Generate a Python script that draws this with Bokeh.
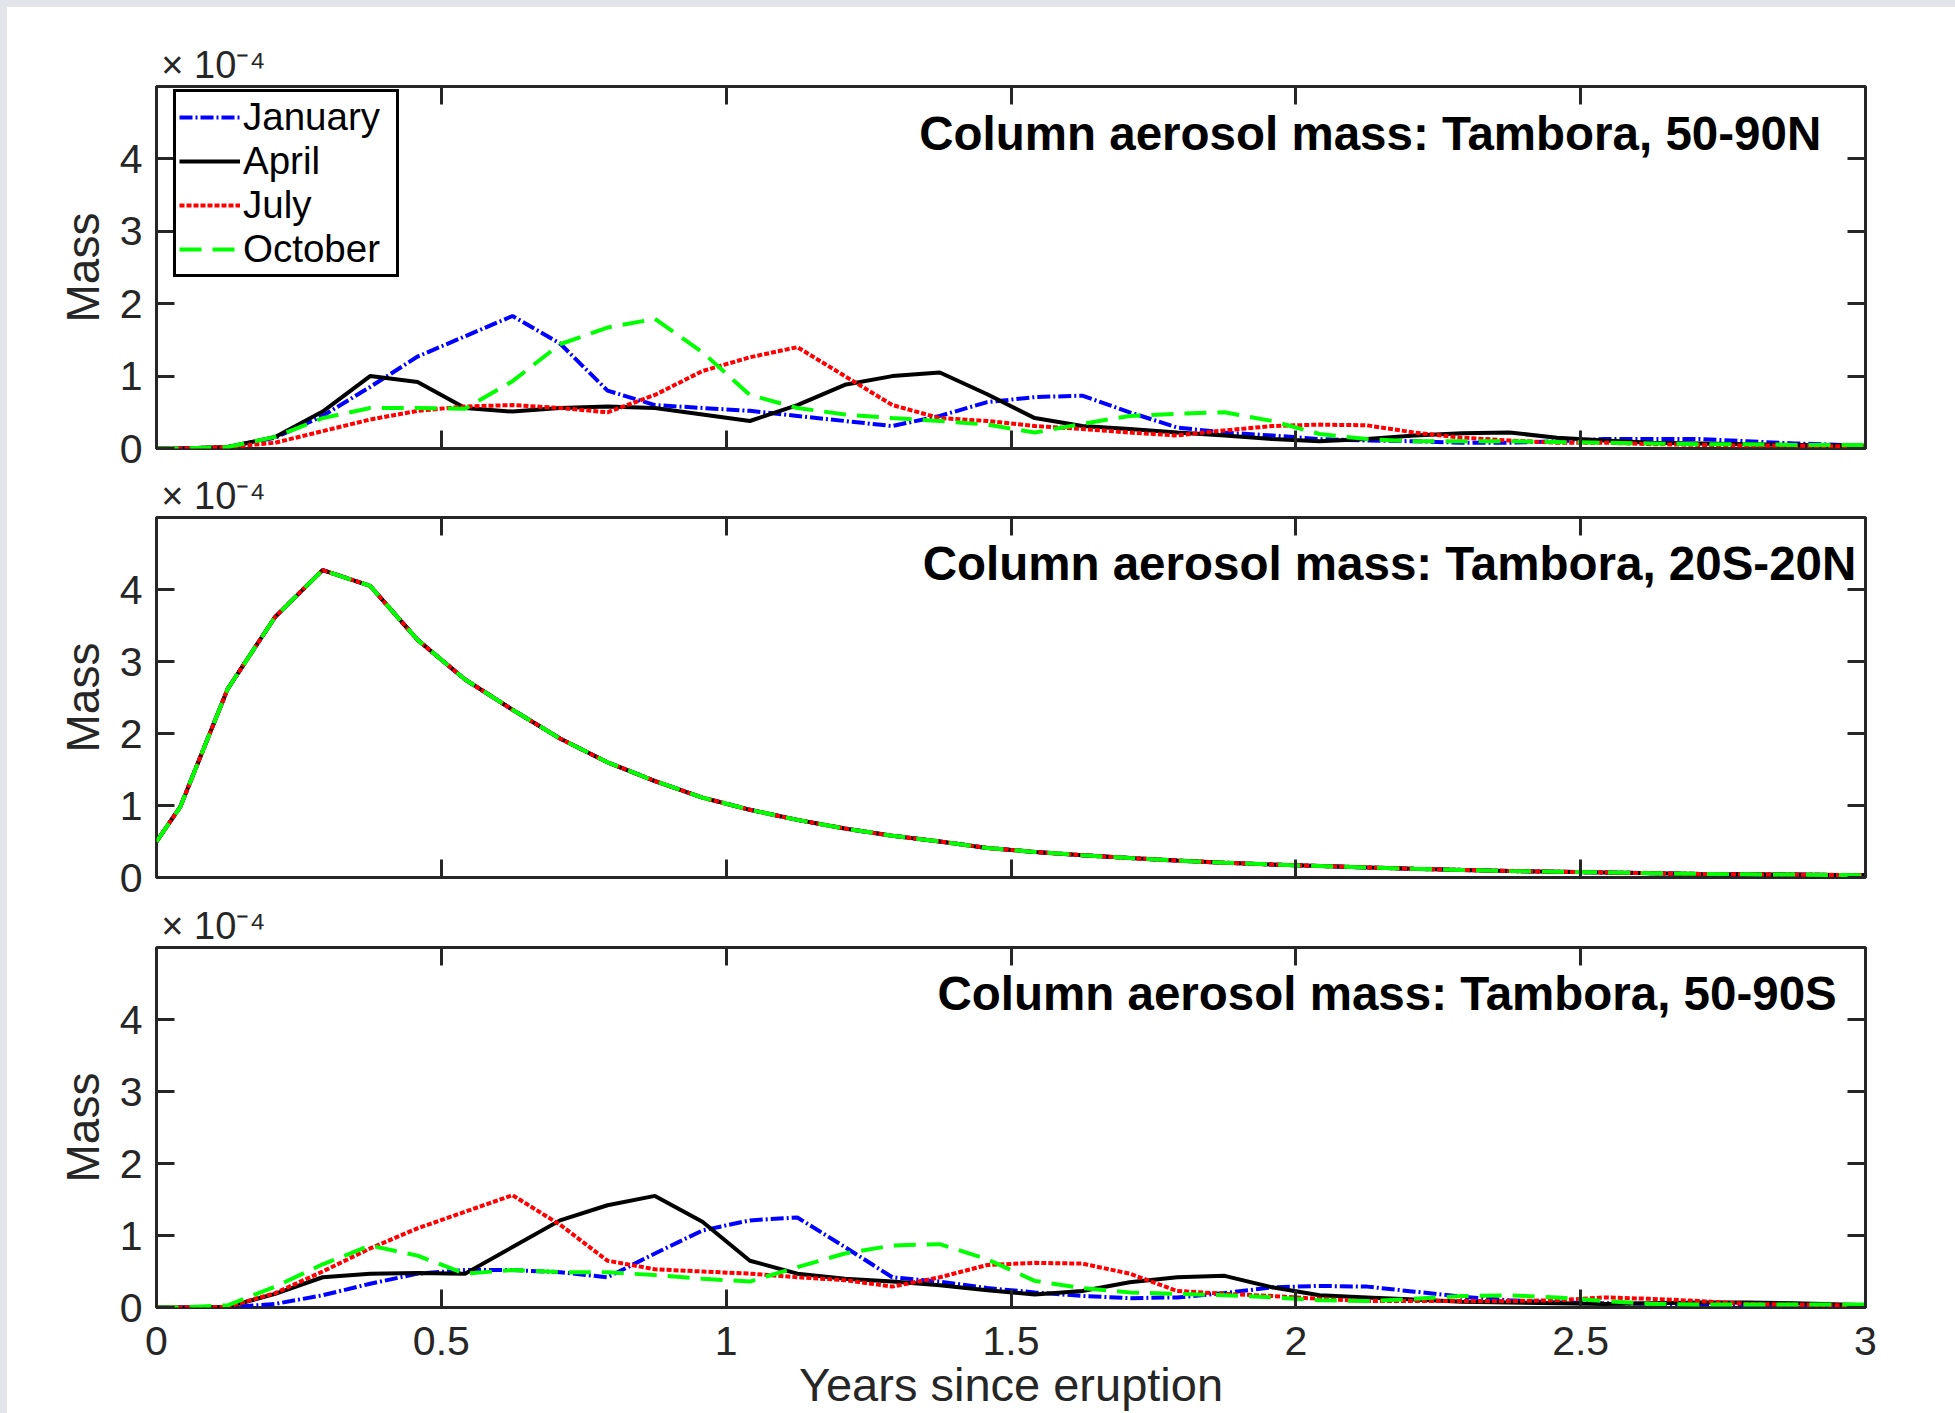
from bokeh.plotting import figure
from bokeh.models import (Range1d, LinearAxis, FixedTicker, NumeralTickFormatter,
                          CustomJSTickFormatter, Label, Legend, LegendItem)
from bokeh.layouts import column
from bokeh.embed import file_html
from bokeh.resources import INLINE

# Time axis: eruption (0), mid-month samples for 36 months, end (3 years)
years = [0.0] + [(m - 0.5) / 12 for m in range(1, 37)] + [3.0]

months = ["January", "April", "July", "October"]
x_ticks = [0, 0.5, 1, 1.5, 2, 2.5, 3]
y_ticks = [0, 1, 2, 3, 4]

# Column aerosol mass, units of 1e-4
north_jan = [0, 0, 0.02, 0.15, 0.45, 0.85, 1.27, 1.55, 1.83, 1.45, 0.8, 0.6, 0.56, 0.52, 0.45, 0.38,
             0.31, 0.45, 0.64, 0.71, 0.73, 0.5, 0.29, 0.22, 0.18, 0.13, 0.11, 0.1, 0.08, 0.08,
             0.1, 0.13, 0.13, 0.13, 0.1, 0.07, 0.05, 0.04]
north_apr = [0, 0, 0.02, 0.16, 0.51, 1.0, 0.92, 0.56, 0.51, 0.56, 0.58, 0.56, 0.47, 0.38, 0.6, 0.88,
             1.0, 1.05, 0.75, 0.42, 0.31, 0.27, 0.22, 0.18, 0.13, 0.1, 0.13, 0.18, 0.21, 0.22,
             0.15, 0.11, 0.08, 0.07, 0.06, 0.05, 0.04, 0.03]
north_jul = [0, 0, 0.02, 0.08, 0.24, 0.4, 0.52, 0.58, 0.6, 0.56, 0.5, 0.74, 1.07, 1.26, 1.4, 1.0,
             0.6, 0.42, 0.38, 0.31, 0.27, 0.22, 0.18, 0.25, 0.31, 0.33, 0.32, 0.22, 0.15, 0.11,
             0.08, 0.08, 0.06, 0.05, 0.04, 0.04, 0.03, 0.03]
north_oct = [0, 0, 0.02, 0.16, 0.42, 0.56, 0.56, 0.55, 0.93, 1.44, 1.67, 1.79, 1.33, 0.74, 0.56, 0.47,
             0.42, 0.38, 0.33, 0.22, 0.34, 0.45, 0.48, 0.5, 0.38, 0.2, 0.13, 0.1, 0.1, 0.1,
             0.09, 0.08, 0.07, 0.06, 0.06, 0.05, 0.05, 0.05]

tropics = [0.5, 0.98, 2.62, 3.62, 4.27, 4.05, 3.3, 2.75, 2.33, 1.93, 1.6, 1.34, 1.11, 0.94, 0.8, 0.68,
           0.58, 0.5, 0.41, 0.355, 0.31, 0.27, 0.235, 0.205, 0.18, 0.16, 0.14, 0.12, 0.105, 0.09,
           0.08, 0.07, 0.06, 0.05, 0.045, 0.04, 0.035, 0.03]
tropics_jan = tropics
tropics_apr = tropics
tropics_jul = tropics
tropics_oct = tropics

south_jan = [0, 0, 0.0, 0.05, 0.17, 0.33, 0.47, 0.52, 0.52, 0.49, 0.42, 0.75, 1.07, 1.21, 1.25, 0.84,
             0.42, 0.36, 0.27, 0.21, 0.16, 0.13, 0.14, 0.2, 0.28, 0.3, 0.29, 0.22, 0.15, 0.1,
             0.07, 0.06, 0.05, 0.05, 0.04, 0.04, 0.03, 0.03]
south_apr = [0, 0, 0.01, 0.19, 0.42, 0.47, 0.48, 0.47, 0.84, 1.21, 1.42, 1.55, 1.19, 0.65, 0.47, 0.4,
             0.36, 0.31, 0.24, 0.18, 0.23, 0.35, 0.42, 0.44, 0.28, 0.17, 0.14, 0.11, 0.08, 0.07,
             0.06, 0.05, 0.06, 0.07, 0.07, 0.06, 0.04, 0.03]
south_jul = [0, 0, 0.01, 0.2, 0.5, 0.82, 1.1, 1.33, 1.56, 1.15, 0.65, 0.53, 0.5, 0.47, 0.42, 0.38,
             0.29, 0.42, 0.59, 0.62, 0.61, 0.47, 0.23, 0.19, 0.16, 0.12, 0.09, 0.09, 0.09, 0.09,
             0.1, 0.14, 0.12, 0.09, 0.05, 0.04, 0.03, 0.03]
south_oct = [0, 0, 0.03, 0.29, 0.6, 0.86, 0.72, 0.47, 0.52, 0.49, 0.49, 0.45, 0.4, 0.36, 0.56, 0.75,
             0.86, 0.88, 0.67, 0.37, 0.27, 0.21, 0.19, 0.17, 0.14, 0.1, 0.09, 0.12, 0.16, 0.17,
             0.14, 0.09, 0.05, 0.04, 0.04, 0.04, 0.04, 0.04]

titles = ["Column aerosol mass: Tambora, 50-90N",
          "Column aerosol mass: Tambora, 20S-20N",
          "Column aerosol mass: Tambora, 50-90S"]
exponent_text = "\u00d7 10\u207b\u2074"

colors = ["#0000ff", "#000000", "#ff0000", "#00ff00"]
dashes = ["13 3 2 3", "solid", "5 2", "22 11"]

FONT = "Liberation Sans"
AX = "#262626"


def style_axis(ax, labels):
    ax.axis_line_color = None
    ax.major_tick_in = 18
    ax.major_tick_out = 0
    ax.minor_tick_in = 0
    ax.minor_tick_out = 0
    ax.major_tick_line_width = 3
    ax.major_tick_line_color = AX
    if labels:
        ax.major_label_text_font = FONT
        ax.major_label_text_font_size = "41px"
        ax.major_label_text_color = AX
    else:
        ax.major_label_text_font_size = "0px"
        ax.major_label_text_alpha = 0
        ax.major_label_standoff = 0


def make_panel(series, title, title_x, height, top, bottom, margin_top, show_x):
    p = figure(width=1948, height=height, x_range=Range1d(0, 3), y_range=Range1d(0, 5),
               output_backend="svg", toolbar_location=None,
               x_axis_location=None, y_axis_location=None,
               min_border_left=149, min_border_right=90,
               min_border_top=top, min_border_bottom=bottom,
               margin=(margin_top, 0, 0, 7))
    p.grid.visible = False
    p.outline_line_color = AX
    p.outline_line_width = 3
    p.background_fill_color = "white"
    p.border_fill_color = "white"

    left = LinearAxis(ticker=FixedTicker(ticks=y_ticks))
    style_axis(left, True)
    left.major_label_standoff = 14
    left.axis_label = "Mass"
    left.axis_label_text_font = FONT
    left.axis_label_text_font_size = "46px"
    left.axis_label_text_font_style = "normal"
    left.axis_label_text_color = AX
    left.axis_label_standoff = 8
    p.add_layout(left, "left")

    right = LinearAxis(ticker=FixedTicker(ticks=y_ticks))
    style_axis(right, False)
    p.add_layout(right, "right")

    above = LinearAxis(ticker=FixedTicker(ticks=x_ticks))
    style_axis(above, False)
    p.add_layout(above, "above")

    # exponent marker above the top-left corner of the frame
    expo = LinearAxis(ticker=FixedTicker(ticks=[0.1]),
                      formatter=CustomJSTickFormatter(code="return '%s'" % exponent_text))
    expo.axis_line_color = None
    expo.major_tick_line_color = None
    expo.major_tick_in = 0
    expo.major_tick_out = 0
    expo.minor_tick_in = 0
    expo.minor_tick_out = 0
    expo.major_label_standoff = 1
    expo.major_label_text_font = FONT
    expo.major_label_text_font_size = "38px"
    expo.major_label_text_color = AX
    p.add_layout(expo, "above")

    below = LinearAxis(ticker=FixedTicker(ticks=x_ticks),
                       formatter=NumeralTickFormatter(format="0.[0]"))
    style_axis(below, show_x)
    if show_x:
        below.major_label_standoff = 19
        below.axis_label = "Years since eruption"
        below.axis_label_text_font = FONT
        below.axis_label_text_font_size = "47px"
        below.axis_label_text_font_style = "normal"
        below.axis_label_text_color = AX
        below.axis_label_standoff = 0
    p.add_layout(below, "below")

    renderers = []
    for vals, c, d in zip(series, colors, dashes):
        r = p.line(years, vals, line_color=c, line_width=4, line_dash=d)
        renderers.append(r)

    p.add_layout(Label(x=title_x, y=4.355, text=title, text_font=FONT,
                       text_font_style="bold", text_font_size="47.5px",
                       text_color="black", text_baseline="alphabetic"))
    return p, renderers


p1, r1 = make_panel([north_jan, north_apr, north_jul, north_oct], titles[0], 1.339,
                    height=464, top=79, bottom=23, margin_top=7, show_x=False)
p2, r2 = make_panel([tropics_jan, tropics_apr, tropics_jul, tropics_oct], titles[1], 1.345,
                    height=430, top=44, bottom=24, margin_top=0, show_x=False)
p3, r3 = make_panel([south_jan, south_apr, south_jul, south_oct], titles[2], 1.371,
                    height=512, top=45, bottom=106, margin_top=0, show_x=True)

legend = Legend(items=[LegendItem(label=m, renderers=[r]) for m, r in zip(months, r1)],
                location=(17, 171))
legend.label_text_font = FONT
legend.label_text_font_size = "38.5px"
legend.label_text_color = "black"
legend.glyph_width = 61
legend.glyph_height = 38
legend.label_height = 38
legend.label_width = 150
legend.label_standoff = 3
legend.spacing = 0
legend.padding = 3
legend.margin = 0
legend.border_line_color = "black"
legend.border_line_alpha = 1.0
legend.border_line_width = 3
legend.background_fill_color = "white"
legend.background_fill_alpha = 1.0
p1.add_layout(legend)

layout = column(p1, p2, p3, styles={
    "background": "linear-gradient(to bottom, #e1e4e8 7px, transparent 7px), "
                  "linear-gradient(to right, #e1e4e8 7px, #ffffff 7px)"})

open("out.html", "w").write(file_html(layout, INLINE))
